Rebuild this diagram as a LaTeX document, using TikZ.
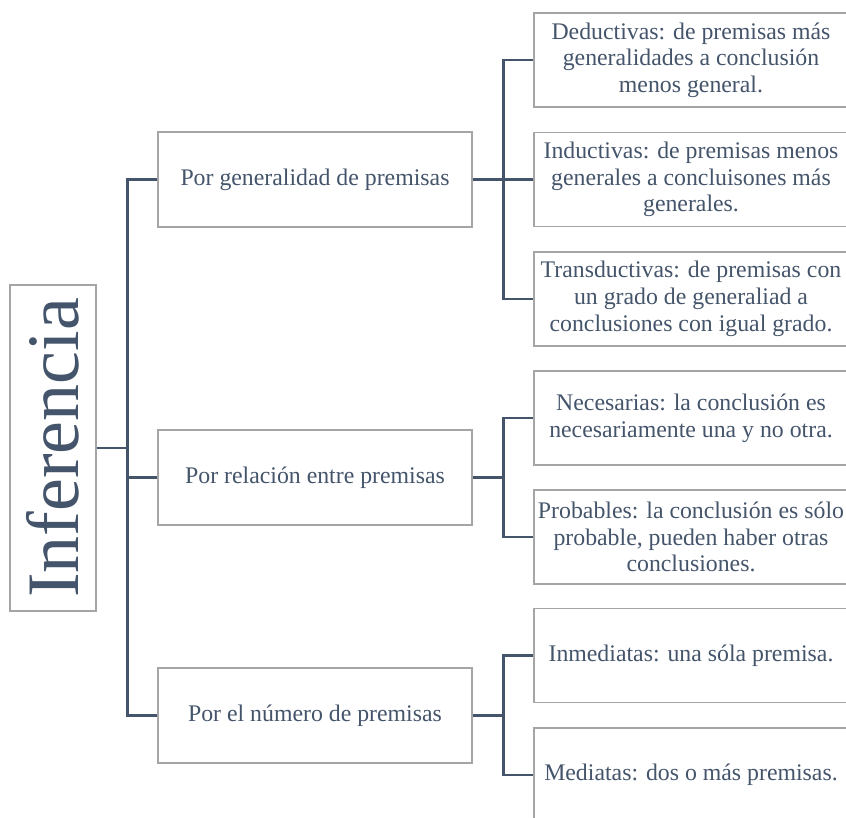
\documentclass[tikz,border=0pt]{standalone}
\usepackage{fontspec}
\setmainfont{Liberation Serif}
\usepackage{tikz}
\usetikzlibrary{positioning, calc}
\usepackage{xcolor}
\definecolor{cText}{HTML}{44546A}
\definecolor{cLink}{HTML}{44546A}
\definecolor{cFrame}{HTML}{A5A5A5}

\begin{document}
\begin{tikzpicture}[x=1pt, y=-1pt,
  font=\fontsize{23.8}{26.7}\selectfont,
  box/.style={draw=cFrame, line width=1.2pt, text=cText, align=center, inner sep=0pt},
  mid/.style={box, minimum width=314pt, minimum height=95pt},
  leaf/.style={box, minimum width=314pt, minimum height=94pt},
  conn/.style={draw=cLink, line width=2.6pt}]
  \useasboundingbox (0,0) rectangle (846,818);
  % root, rotated
  \node[box, rotate=90, minimum width=326pt, minimum height=86pt,
        font=\fontsize{74}{80}\selectfont] (inf) at (53,448) {Inferencia};
  % second level
  \node[mid] (gen) at (315,179.5) {Por generalidad de premisas};
  \node[mid] (rel) at (315,477.5) {Por relación entre premisas};
  \node[mid] (num) at (315,715.5) {Por el número de premisas};
  % leaves
  \node[leaf] (ded) at (691,60) {Deductivas: de premisas más\\generalidades a conclusión\\menos general.};
  \node[leaf] (ind) at (691,179.5) {Inductivas: de premisas menos\\generales a concluisones más\\generales.};
  \node[leaf] (tra) at (691,299) {Transductivas: de premisas con\\un grado de generaliad a\\conclusiones con igual grado.};
  \node[leaf] (nec) at (691,418) {Necesarias: la conclusión es\\necesariamente una y no otra.};
  \node[leaf] (pro) at (691,537) {Probables: la conclusión es sólo\\probable, pueden haber otras\\conclusiones.};
  \node[leaf] (inm) at (691,655.5) {Inmediatas: una sóla premisa.};
  \node[leaf] (med) at (691,775) {Mediatas: dos o más premisas.};
  % connectors
  \coordinate (tk) at ($(inf.south)+(31,0)$);
  \draw[conn] (inf.south) -- (tk);
  \foreach \m in {gen,rel,num}
    \draw[conn] (tk) |- (\m.west);
  \coordinate (gk) at ($(gen.east)+(31,0)$);
  \coordinate (rk) at ($(rel.east)+(31,0)$);
  \coordinate (nk) at ($(num.east)+(31,0)$);
  \draw[conn] (gen.east) -- (gk);
  \draw[conn] (rel.east) -- (rk);
  \draw[conn] (num.east) -- (nk);
  \foreach \r in {ded,ind,tra}
    \draw[conn] (gk) |- (\r.west);
  \foreach \r in {nec,pro}
    \draw[conn] (rk) |- (\r.west);
  \foreach \r in {inm,med}
    \draw[conn] (nk) |- (\r.west);
\end{tikzpicture}
\end{document}
